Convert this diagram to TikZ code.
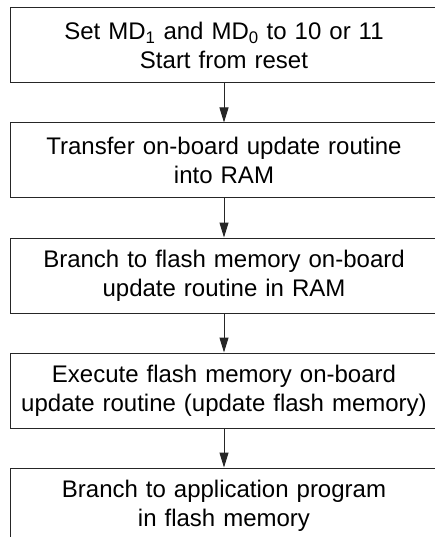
\documentclass[tikz,border=0pt]{standalone}
\usepackage{fontspec}
\setmainfont{Liberation Sans}
\usetikzlibrary{positioning,arrows.meta}

\begin{document}
\begin{tikzpicture}[x=1pt, y=1pt, every node/.style={font=\fontsize{24}{29}\selectfont},
    stepbox/.style={draw=black!85, line width=1pt, minimum width=428pt, minimum height=75pt,
      text width=424pt, align=center, inner sep=0pt},
    flow/.style={draw=black!85, line width=1pt, -{Triangle[length=15pt,width=9pt]}}]
        \useasboundingbox (0,0) rectangle (434,-537);

        \node[stepbox] (reset) at (224,-45.5) {Set MD\textsubscript{1} and MD\textsubscript{0} to 10 or 11\\Start from reset};
        \node[stepbox, below=39pt of reset] (transfer) {Transfer on-board update routine\\into RAM};
        \node[stepbox, below=39pt of transfer] (branch) {Branch to flash memory on-board\\update routine in RAM};
        \node[stepbox, below=39pt of branch] (execute) {Execute flash memory on-board\\update routine (update flash memory)};
        \node[stepbox, below=39pt of execute] (app) {Branch to application program\\in flash memory};

        \draw[flow] (reset) -- (transfer);
        \draw[flow] (transfer) -- (branch);
        \draw[flow] (branch) -- (execute);
        \draw[flow] (execute) -- (app);
    \end{tikzpicture}
\end{document}
